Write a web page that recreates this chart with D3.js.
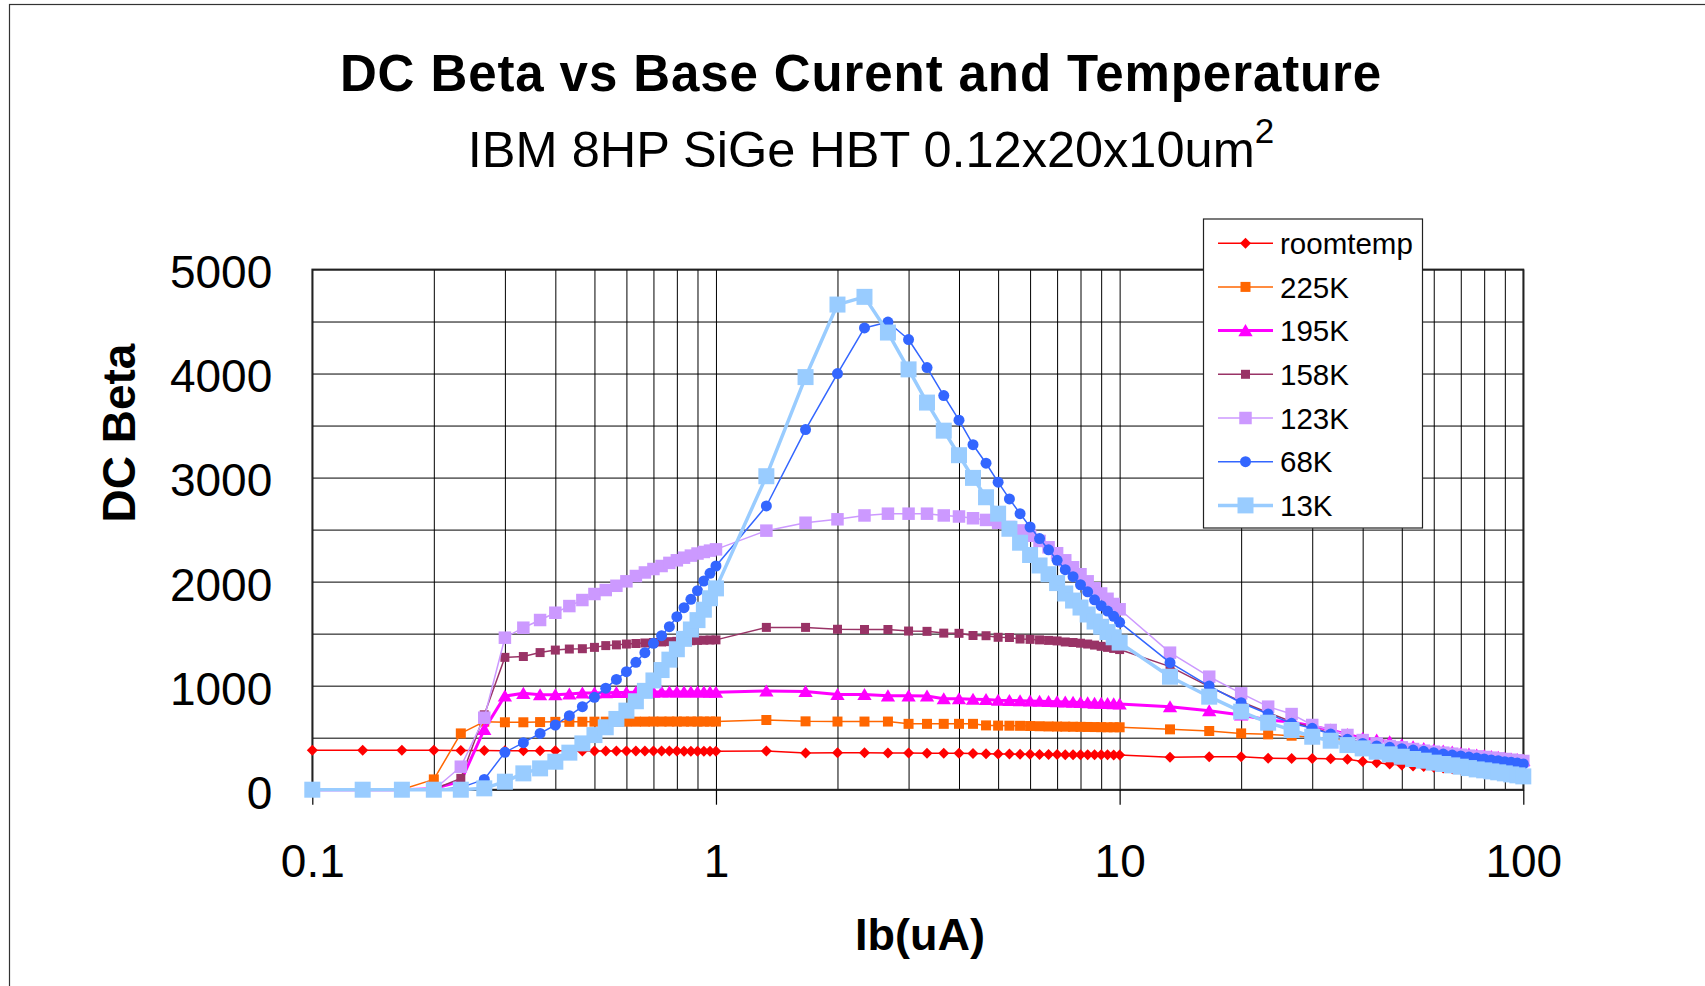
<!DOCTYPE html>
<html>
<head>
    <meta charset="utf-8">
    <style>
        body { margin: 0; background: #fff; }
        svg { display: block; font-family: "Liberation Sans", Arial, sans-serif; }
        .axis text { font-size: 46px; fill: #000; }
        .grid line { stroke: #000; stroke-width: 1; }
    </style>
</head>
<body>
    <div id="container"></div>
    <script src="https://d3js.org/d3.v7.min.js"></script>
    <script>
        // base current sweep (uA)
        const ibValues = [
            0.1, 0.1333, 0.1667, 0.2, 0.2333, 0.2667, 0.3, 0.3333, 0.3667, 0.4, 0.4333, 0.4667, 0.5, 0.5333,
            0.5667, 0.6, 0.6333, 0.6667, 0.7, 0.7333, 0.7667, 0.8, 0.8333, 0.8667, 0.9, 0.9333, 0.9667, 1.0,
            1.333, 1.667, 2, 2.333, 2.667, 3, 3.333, 3.667, 4, 4.333, 4.667, 5, 5.333, 5.667,
            6, 6.333, 6.667, 7, 7.333, 7.667, 8, 8.333, 8.667, 9, 9.333, 9.667, 10,
            13.33, 16.67, 20, 23.33, 26.67, 30, 33.33, 36.67, 40, 43.33, 46.67, 50, 53.33, 56.67,
            60, 63.33, 66.67, 70, 73.33, 76.67, 80, 83.33, 86.67, 90, 93.33, 96.67, 100
        ];

        const roomtemp = [
            378, 378, 378, 378, 376, 376, 375, 375, 374, 374, 374, 373, 373, 373,
            372, 372, 372, 372, 371, 371, 371, 371, 370, 370, 370, 370, 370, 370,
            372, 352, 355, 355, 352, 352, 350, 350, 350, 348, 346, 344, 342, 340,
            340, 339, 338, 338, 337, 337, 336, 336, 335, 335, 335, 334, 334,
            311, 316, 316, 302, 301, 300, 298, 292, 272, 260, 247, 237, 228, 222,
            215, 208, 202, 196, 190, 185, 180, 175, 171, 167, 163, 159, 155
        ];
        const k225 = [
            0, 0, 2, 99, 541, 654, 648, 648, 650, 652, 652, 653, 654, 654,
            654, 654, 654, 654, 655, 655, 655, 655, 655, 655, 655, 655, 655, 655,
            670, 657, 655, 655, 655, 633, 633, 633, 633, 633, 618, 616, 615, 614,
            612, 610, 608, 607, 606, 605, 604, 603, 602, 601, 600, 600, 600,
            580, 564, 541, 532, 519, 506, 490, 472, 455, 437, 420, 405, 390, 377,
            365, 354, 344, 334, 325, 317, 309, 302, 295, 289, 283, 277, 271
        ];
        const k195 = [
            0, 0, 0, 10, 80, 580, 900, 926, 912, 912, 920, 930, 930, 932,
            934, 935, 936, 937, 938, 939, 940, 940, 940, 940, 940, 940, 938, 936,
            949, 945, 916, 916, 902, 902, 900, 875, 875, 870, 868, 860, 858, 856,
            852, 850, 848, 845, 843, 840, 838, 835, 832, 830, 828, 826, 824,
            798, 759, 718, 670, 650, 612, 574, 530, 495, 477, 461, 432, 413, 397,
            381, 373, 363, 350, 342, 333, 327, 318, 311, 302, 296, 291, 282
        ];
        const k158 = [
            0, 0, 0, 5, 109, 720, 1272, 1280, 1318, 1342, 1352, 1355, 1368, 1385,
            1392, 1400, 1405, 1410, 1415, 1420, 1423, 1426, 1429, 1432, 1435, 1437, 1439, 1440,
            1560, 1560, 1542, 1540, 1540, 1525, 1522, 1505, 1503, 1482, 1480, 1465, 1463, 1448,
            1445, 1440, 1435, 1430, 1420, 1415, 1408, 1400, 1390, 1378, 1368, 1358, 1347,
            1183, 990, 846, 740, 654, 599, 541, 493, 455, 429, 413, 397, 384, 372,
            359, 349, 340, 330, 320, 311, 304, 295, 288, 282, 276, 269, 263
        ];
        const k123 = [
            0, 0, 0, 0, 221, 692, 1461, 1557, 1631, 1701, 1765, 1823, 1881, 1919,
            1960, 2003, 2054, 2088, 2121, 2150, 2180, 2205, 2230, 2250, 2270, 2285, 2298, 2310,
            2490, 2566, 2599, 2636, 2653, 2653, 2653, 2636, 2626, 2609, 2593, 2566, 2525, 2492,
            2441, 2391, 2330, 2273, 2205, 2138, 2071, 2003, 1936, 1886, 1835, 1785, 1734,
            1317, 1086, 926, 798, 727, 622, 574, 526, 477, 445, 420, 407, 391, 375,
            365, 356, 346, 336, 327, 320, 314, 308, 301, 295, 288, 282, 276
        ];
        const k68 = [
            0, 0, 0, 0, 20, 99, 359, 452, 541, 622, 711, 798, 888, 976,
            1060, 1134, 1224, 1317, 1407, 1480, 1567, 1663, 1750, 1830, 1913, 2006, 2080, 2150,
            2727, 3461, 4000, 4438, 4495, 4327, 4057, 3788, 3552, 3316, 3138, 2956, 2795, 2653,
            2525, 2414, 2306, 2205, 2115, 2047, 1970, 1902, 1825, 1768, 1717, 1667, 1609,
            1221, 996, 836, 727, 638, 590, 535, 484, 445, 420, 407, 394, 381, 369,
            356, 343, 333, 324, 314, 304, 295, 285, 279, 269, 263, 256, 247
        ];
        const k13 = [
            0, 0, 0, 0, 0, 13, 77, 157, 205, 269, 356, 445, 525, 600,
            680, 760, 850, 950, 1050, 1150, 1250, 1350, 1450, 1540, 1630, 1730, 1840, 1935,
            3013, 3966, 4663, 4737, 4394, 4040, 3721, 3451, 3215, 2997, 2811, 2653, 2508, 2374,
            2256, 2155, 2071, 1986, 1886, 1818, 1751, 1684, 1616, 1566, 1515, 1465, 1414,
            1086, 894, 750, 644, 574, 509, 471, 429, 397, 365, 340, 317, 295, 279,
            260, 247, 234, 221, 208, 195, 186, 176, 167, 157, 147, 138, 128
        ];

        const seriesNames = ["roomtemp", "225K", "195K", "158K", "123K", "68K", "13K"];
        const seriesValues = [roomtemp, k225, k195, k158, k123, k68, k13];
        const xTickValues = [0.1, 1, 10, 100];
        const yTickValues = [0, 1000, 2000, 3000, 4000, 5000];

        // look of each series (Excel palette)
        const seriesColors = ["#FF0000", "#FF6600", "#FF00FF", "#993366", "#CC99FF", "#3366FF", "#99CCFF"];
        const seriesWidths = [1.5, 1.5, 3, 1.5, 1.5, 1.5, 3.5];
        const seriesMarkers = ["diamond", "square", "triangle", "square", "square", "circle", "square"];
        const markerSizes = [11, 10, 13, 9, 12.5, 11, 16];

        const width = 1705, height = 986;
        const plotLeft = 312.3, plotRight = 1523.3, plotTop = 269.5, plotBottom = 789.7;

        const x = d3.scaleLog().domain([0.1, 100]).range([plotLeft, plotRight]);
        const y = d3.scaleLinear().domain([0, 5000]).range([plotBottom, plotTop]);

        const svg = d3.select("#container").append("svg")
            .attr("width", width)
            .attr("height", height);

        svg.append("rect").attr("width", width).attr("height", height).attr("fill", "#fff");

        // chart frame
        svg.append("rect")
            .attr("x", 9.5).attr("y", 4.5)
            .attr("width", width + 20).attr("height", height + 20)
            .attr("fill", "none").attr("stroke", "#333").attr("stroke-width", 1.2);

        // titles
        svg.append("text")
            .attr("x", 861).attr("y", 91)
            .attr("text-anchor", "middle")
            .attr("font-size", 51).attr("font-weight", "bold")
            .attr("letter-spacing", 0.9)
            .text("DC Beta vs Base Curent and Temperature");

        const sub = svg.append("text")
            .attr("x", 871).attr("y", 166.7)
            .attr("text-anchor", "middle")
            .attr("font-size", 50.5);
        sub.append("tspan").text("IBM 8HP SiGe HBT 0.12x20x10um");
        sub.append("tspan").attr("font-size", 35).attr("dy", -23.5).text("2");

        // grid
        svg.append("g").attr("class", "grid")
            .attr("transform", `translate(0,${plotBottom})`)
            .call(d3.axisBottom(x).tickValues(x.ticks()).tickSize(-(plotBottom - plotTop)).tickFormat(""))
            .call(g => g.select(".domain").remove());

        svg.append("g").attr("class", "grid")
            .attr("transform", `translate(${plotLeft},0)`)
            .call(d3.axisLeft(y).ticks(10).tickSize(-(plotRight - plotLeft)).tickFormat(""))
            .call(g => g.select(".domain").remove());

        svg.append("rect")
            .attr("x", plotLeft).attr("y", plotTop)
            .attr("width", plotRight - plotLeft).attr("height", plotBottom - plotTop)
            .attr("fill", "none").attr("stroke", "#222").attr("stroke-width", 1.8);

        // axes
        svg.append("g").attr("class", "axis")
            .attr("transform", `translate(0,${plotBottom})`)
            .call(d3.axisBottom(x).tickValues(xTickValues).tickSize(15).tickPadding(40)
                .tickFormat(d => String(d)))
            .call(g => g.select(".domain").remove())
            .call(g => g.selectAll(".tick line").attr("stroke", "#000").attr("stroke-width", 1.2));

        svg.append("g").attr("class", "axis")
            .attr("transform", `translate(${plotLeft},0)`)
            .call(d3.axisLeft(y).tickValues(yTickValues).tickSize(0).tickPadding(40).tickFormat(d3.format("d")))
            .call(g => g.select(".domain").remove())
            .call(g => g.selectAll("text").attr("dy", "0.4em"));

        svg.selectAll(".axis text").attr("font-family", null).attr("font-size", null);

        svg.append("text")
            .attr("transform", "translate(135,433) rotate(-90)")
            .attr("text-anchor", "middle")
            .attr("font-size", 46).attr("font-weight", "bold")
            .text("DC Beta");

        svg.append("text")
            .attr("x", 920).attr("y", 950)
            .attr("text-anchor", "middle")
            .attr("font-size", 45).attr("font-weight", "bold")
            .text("Ib(uA)");

        function markerPath(type, s) {
            var r = s / 2;
            if (type === "diamond") return `M0,${-r}L${r},0L0,${r}L${-r},0Z`;
            if (type === "triangle") return `M0,${-r}L${r * 1.1},${r * 0.85}L${-r * 1.1},${r * 0.85}Z`;
            if (type === "circle") return d3.symbol(d3.symbolCircle, Math.PI * r * r)();
            return `M${-r},${-r}H${r}V${r}H${-r}Z`;
        }

        const line = d3.line()
            .x(d => x(d.ib))
            .y(d => y(d.beta));

        seriesNames.forEach(function (name, i) {
            const pts = ibValues.map((ib, j) => ({ ib: ib, beta: seriesValues[i][j] }));
            const g = svg.append("g").attr("class", "series");
            g.append("path")
                .datum(pts)
                .attr("d", line)
                .attr("fill", "none")
                .attr("stroke", seriesColors[i])
                .attr("stroke-width", seriesWidths[i])
                .attr("stroke-linejoin", "round");
            g.selectAll("path.marker")
                .data(pts)
                .join("path")
                .attr("class", "marker")
                .attr("transform", d => `translate(${x(d.ib)},${y(d.beta)})`)
                .attr("d", markerPath(seriesMarkers[i], markerSizes[i]))
                .attr("fill", seriesColors[i]);
        });

        // legend
        const legend = svg.append("g").attr("class", "legend");
        legend.append("rect")
            .attr("x", 1203.5).attr("y", 219)
            .attr("width", 219).attr("height", 309)
            .attr("fill", "#fff").attr("stroke", "#222").attr("stroke-width", 1.2);

        const item = legend.selectAll("g.item")
            .data(seriesNames)
            .join("g")
            .attr("class", "item")
            .attr("transform", (d, i) => `translate(0,${243.2 + i * 43.7})`);

        item.append("line")
            .attr("x1", 1218).attr("x2", 1273)
            .attr("stroke", (d, i) => seriesColors[i])
            .attr("stroke-width", (d, i) => seriesWidths[i]);
        item.append("path")
            .attr("transform", "translate(1245.5,0)")
            .attr("d", (d, i) => markerPath(seriesMarkers[i], markerSizes[i]))
            .attr("fill", (d, i) => seriesColors[i]);
        item.append("text")
            .attr("x", 1280).attr("dy", "0.36em")
            .attr("font-size", 29.5)
            .text(d => d);
    </script>
</body>
</html>
